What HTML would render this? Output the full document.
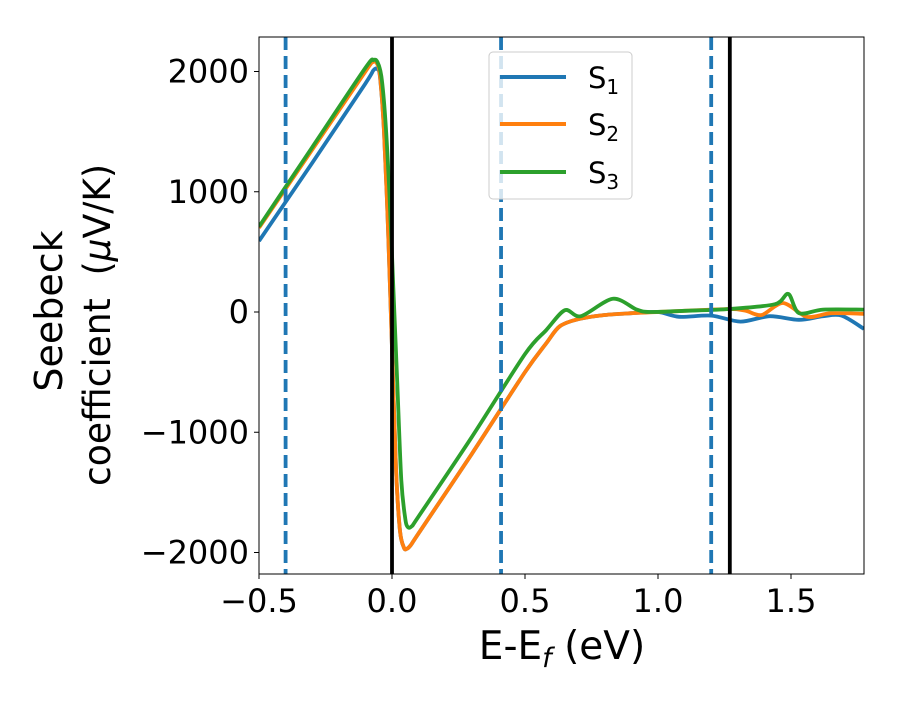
<!DOCTYPE html>
<html><head><meta charset="utf-8"><style>
body{margin:0;background:#fff}
text{font-family:"DejaVu Sans","Liberation Sans",sans-serif}
</style></head><body>
<svg id="chart" width="900" height="700" xmlns="http://www.w3.org/2000/svg">
<rect width="900" height="700" fill="#fff"/>
<g id="marks"></g>
<rect x="259" y="37" width="605" height="537" fill="none" stroke="#000" stroke-width="1"/>
<g id="ticks"></g>
<text x="562" y="659" font-size="39" text-anchor="middle">E-E<tspan font-size="27" dy="8" font-style="italic">f</tspan><tspan dy="-8"> (eV)</tspan></text>
<g>
<text x="62" y="311" font-size="38" text-anchor="middle" transform="rotate(-90 62 311)">Seebeck</text>
<text x="110" y="325" font-size="37" text-anchor="middle" textLength="322" lengthAdjust="spacingAndGlyphs" transform="rotate(-90 110 325)" xml:space="preserve">coefficient  (<tspan font-style="italic">μ</tspan>V/K)</text>
</g>
<g>
<rect x="489" y="52" width="143" height="147" rx="4" fill="#fff" fill-opacity="0.8" stroke="#ccc"/>
<g><line x1="500" y1="77" x2="566" y2="77" stroke="#1f77b4" stroke-width="4"/><text x="588" y="88" font-size="29">S<tspan font-size="20" dy="6">1</tspan></text></g>
<g><line x1="500" y1="124" x2="566" y2="124" stroke="#ff7f0e" stroke-width="4"/><text x="588" y="135" font-size="29">S<tspan font-size="20" dy="6">2</tspan></text></g>
<g><line x1="500" y1="172" x2="566" y2="172" stroke="#2ca02c" stroke-width="4"/><text x="588" y="183" font-size="29">S<tspan font-size="20" dy="6">3</tspan></text></g>
</g>
</svg>
<script>
const xTicks=[-0.5,0,0.5,1.0,1.5];
const xTickLabels=["\u22120.5","0.0","0.5","1.0","1.5"];
const yTicks=[2000,1000,0,-1000,-2000];
const yTickLabels=["2000","1000","0","\u22121000","\u22122000"];
const dashedLines=[-0.4,0.41,1.2];
const solidLines=[0,1.27];
const s1x=[-0.5,-0.3,-0.1,-0.07,-0.055,-0.045,-0.03,-0.015,0,0.015,0.03,0.045,0.055,0.07,0.1,0.3,0.5,0.58,0.63,0.7,0.8,0.9,1.0,1.08,1.2,1.31,1.42,1.53,1.62,1.69,1.774];
const s1=[590,1240,1900,2010,2020,1950,1500,700,-300,-1300,-1820,-1960,-1970,-1940,-1840,-1180,-500,-260,-120,-60,-25,-10,0,-40,-30,-80,-35,-65,-35,-30,-140];
const s2x=[-0.5,-0.3,-0.1,-0.07,-0.055,-0.045,-0.03,-0.015,0,0.015,0.03,0.045,0.055,0.07,0.1,0.3,0.5,0.58,0.63,0.7,0.8,0.9,1.0,1.1,1.27,1.33,1.39,1.47,1.56,1.65,1.774];
const s2=[700,1350,2000,2080,2060,1960,1500,700,-300,-1300,-1820,-1960,-1970,-1940,-1840,-1180,-500,-260,-120,-60,-25,-10,0,10,25,10,-25,75,-40,-10,-15];
const s3x=[-0.5,-0.3,-0.1,-0.07,-0.055,-0.04,-0.025,-0.01,0.005,0.02,0.035,0.05,0.06,0.075,0.1,0.3,0.5,0.58,0.65,0.71,0.83,0.92,0.97,1.1,1.27,1.44,1.49,1.53,1.62,1.774];
const s3=[710,1370,2030,2095,2080,1960,1600,1000,200,-600,-1400,-1720,-1790,-1780,-1700,-1040,-350,-150,15,-35,110,20,0,10,25,65,150,-10,20,20];
function X(v){return 392+266*v;}
function Y(v){return 312-0.12025*v;}
const NS="http://www.w3.org/2000/svg";
const marks=document.getElementById('marks'),ticks=document.getElementById('ticks');
function mk(tag,attrs,parent){const e=document.createElementNS(NS,tag);for(const k in attrs)e.setAttribute(k,attrs[k]);parent.appendChild(e);return e;}
function path(xs,ys){const p=xs.map((x,i)=>[X(x),Y(ys[i])]);let d=`M${p[0][0]},${p[0][1]}`;
for(let i=0;i<p.length-1;i++){const p0=p[Math.max(0,i-1)],p1=p[i],p2=p[i+1],p3=p[Math.min(p.length-1,i+2)];const t=0.15;
d+=` C${p1[0]+(p2[0]-p0[0])*t},${p1[1]+(p2[1]-p0[1])*t} ${p2[0]-(p3[0]-p1[0])*t},${p2[1]-(p3[1]-p1[1])*t} ${p2[0]},${p2[1]}`;}return d;}
const cp=mk('clipPath',{id:'clip'},document.getElementById('chart'));mk('rect',{x:259,y:37,width:605,height:537},cp);
marks.setAttribute('clip-path','url(#clip)');
const series=[[s1x,s1,'#1f77b4','s1'],[s2x,s2,'#ff7f0e','s2'],[s3x,s3,'#2ca02c','s3']];
series.forEach(s=>{const e=mk('path',{d:path(s[0],s[1]),fill:'none',stroke:s[2],'stroke-width':3.8,'stroke-linejoin':'round'},marks);

});
dashedLines.forEach(v=>{const e=mk('line',{x1:X(v),x2:X(v),y1:37,y2:574,stroke:'#1f77b4','stroke-width':3.8,'stroke-dasharray':'13,6'},marks);

});
solidLines.forEach(v=>{const e=mk('line',{x1:X(v),x2:X(v),y1:37,y2:574,stroke:'#000','stroke-width':3.8},marks);

});
xTicks.forEach((v,i)=>{mk('line',{x1:X(v),x2:X(v),y1:574,y2:579,stroke:'#000'},ticks);
const t=mk('text',{x:X(v),y:612,'font-size':32,'text-anchor':'middle'},ticks);t.textContent=xTickLabels[i];

});
yTicks.forEach((v,i)=>{mk('line',{x1:254,x2:259,y1:Y(v),y2:Y(v),stroke:'#000'},ticks);
const t=mk('text',{x:249,y:Y(v)+11,'font-size':32,'text-anchor':'end'},ticks);t.textContent=yTickLabels[i];

});
</script>
</body></html>
